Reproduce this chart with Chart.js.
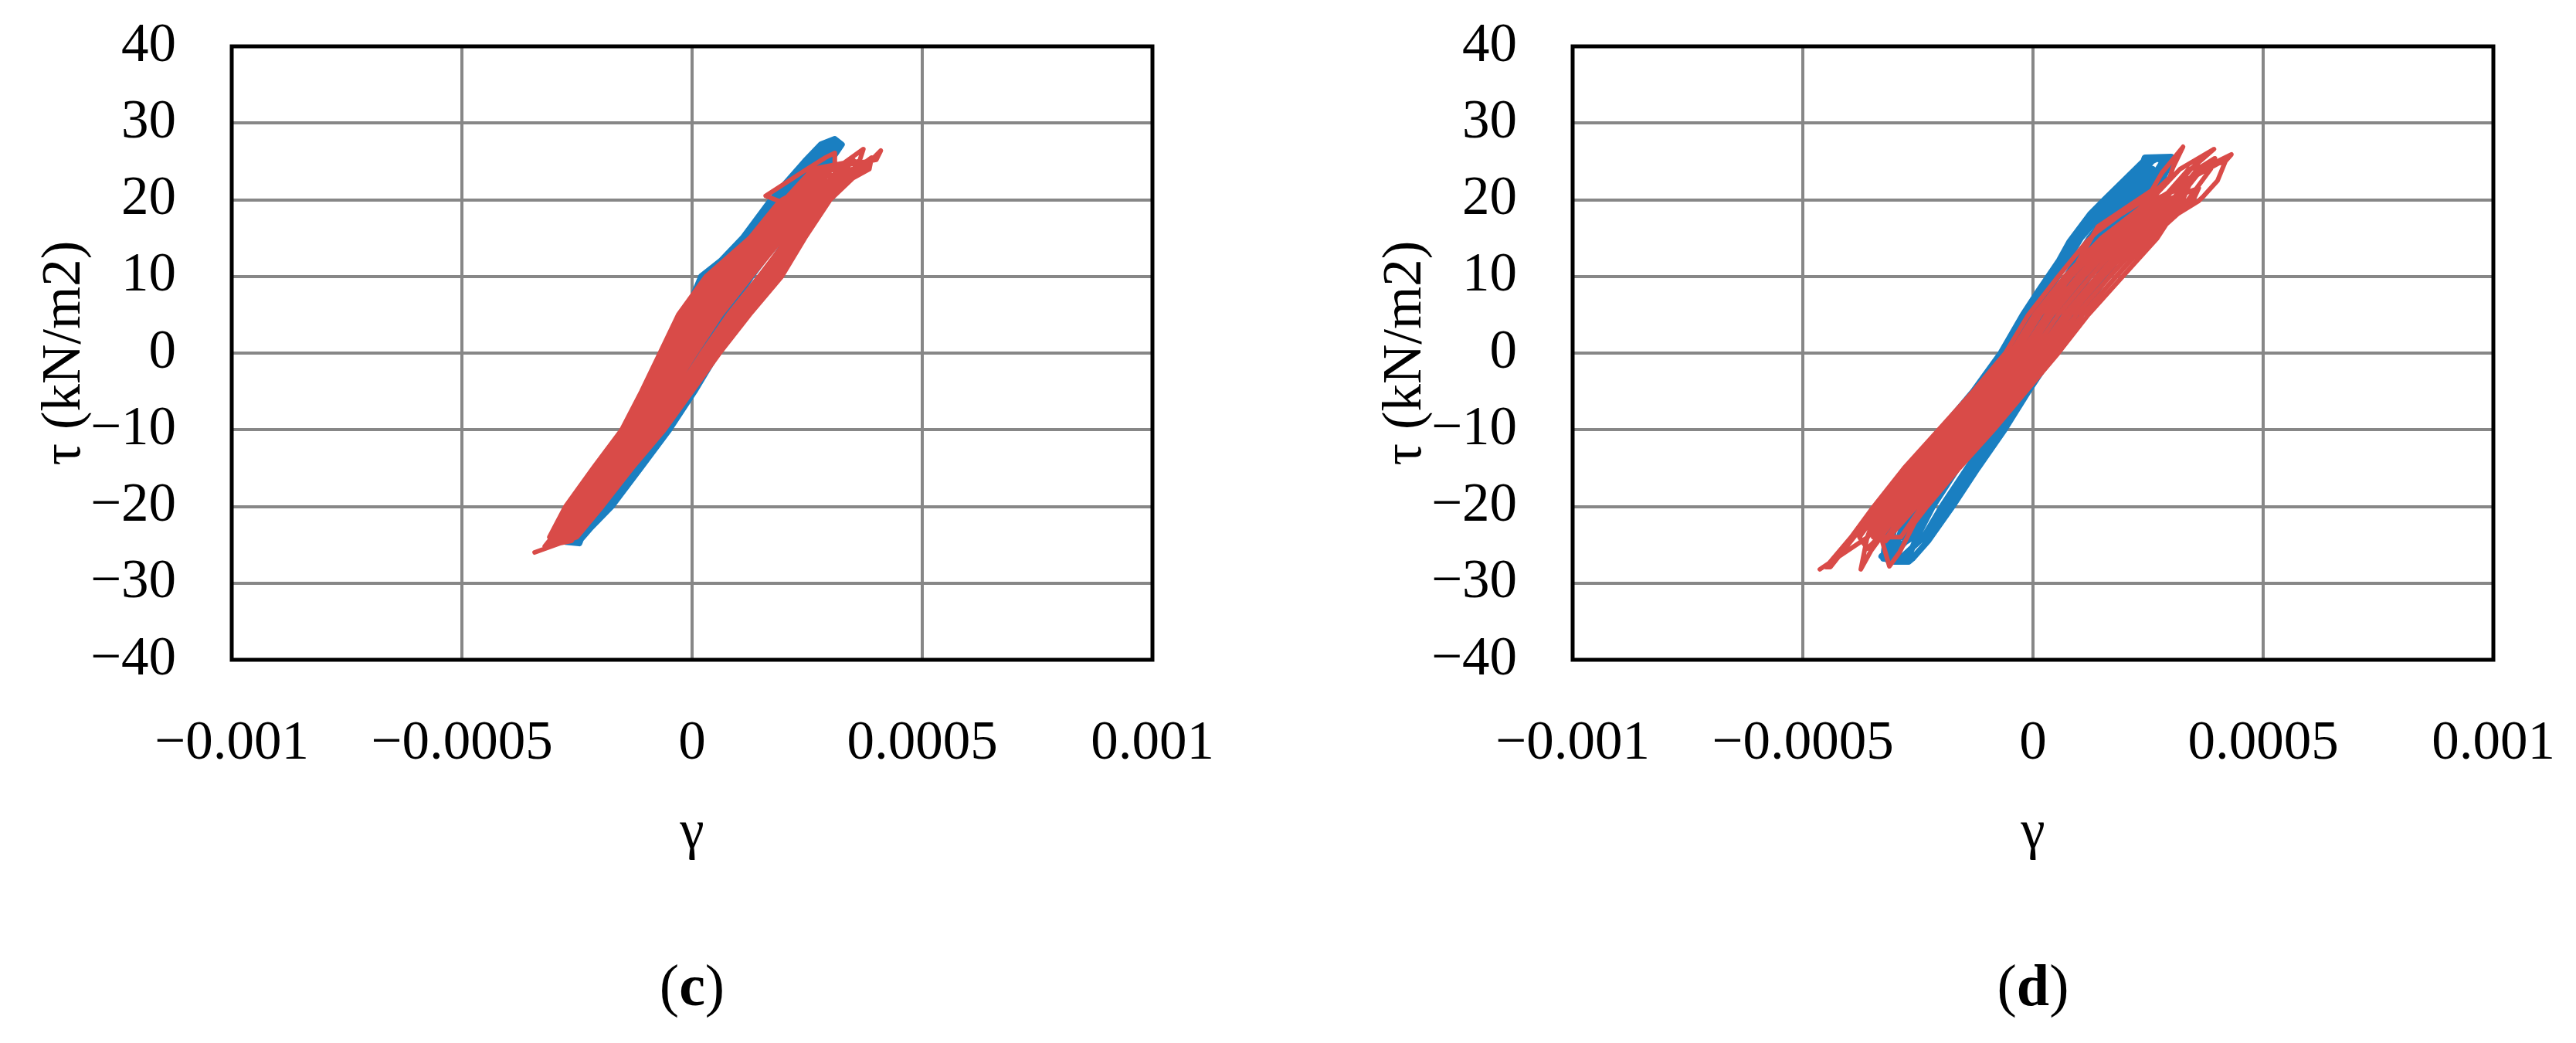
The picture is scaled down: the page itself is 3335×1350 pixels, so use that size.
<!DOCTYPE html>
<html><head><meta charset="utf-8">
<script src="https://cdn.jsdelivr.net/npm/chart.js@4.4.0/dist/chart.umd.min.js"></script>
<style>
html,body{margin:0;padding:0;background:#fff;width:3335px;height:1350px;overflow:hidden;}
.box{position:absolute;top:0;height:1150px;}
.cap{position:absolute;top:1230px;font-family:'Liberation Serif';font-size:76px;color:#000;transform:translateX(-50%);line-height:90px;white-space:nowrap;}
</style></head><body>
<div class="box" style="left:0;width:1660px"><canvas id="cc" width="1660" height="1150"></canvas></div>
<div class="box" style="left:1736px;width:1599px"><canvas id="cd" width="1599" height="1150"></canvas></div>
<div class="cap" style="left:896px">(<b>c</b>)</div>
<div class="cap" style="left:2632px">(<b>d</b>)</div>
<script>
// ---- axes / labels ----
const xTickValues = [-0.001, -0.0005, 0, 0.0005, 0.001];
const xTickLabels = ['\u22120.001', '\u22120.0005', '0', '0.0005', '0.001'];
const yTickValues = [-40, -30, -20, -10, 0, 10, 20, 30, 40];
const yTickLabels = ['\u221240', '\u221230', '\u221220', '\u221210', '0', '10', '20', '30', '40'];
const xTitle = '\u03b3';
const yTitle = '\u03c4 (kN/m2)';

// ---- series: [gamma, tau] ----
const redC = [
[-3.42e-4,-26.0],[-2.5e-4,-24],[-1.95e-4,-20],[-1.3e-4,-15],[-0.6e-4,-10],[0,-5],[0.6e-4,0],[1.25e-4,5],[1.95e-4,10],[2.45e-4,15],[3.0e-4,20],[3.7e-4,24],[4.1e-4,26.4],[4.0e-4,25.2],[2.86e-4,24],[2.23e-4,20],[1.61e-4,15],[0.795e-4,10],[0.165e-4,5],[-0.31e-4,0],[-0.77e-4,-5],[-1.251e-4,-10],[-1.895e-4,-15],[-2.51e-4,-20],[-2.92e-4,-24],[-3.1e-4,-24.8],
[-2.56e-4,-24],[-2.03e-4,-20],[-1.385e-4,-15],[-0.693e-4,-10],[-0.11e-4,-5],[0.47e-4,0],[1.095e-4,5],[1.785e-4,10],[2.33e-4,15],[2.89e-4,20],[3.58e-4,24],[3.72e-4,26.6],[3.3e-4,24.8],[2.62e-4,24],[2.01e-4,20],[1.37e-4,15],[0.465e-4,10],[-0.145e-4,5],[-0.57e-4,0],[-0.99e-4,-5],[-1.437e-4,-10],[-2.065e-4,-15],[-2.67e-4,-20],[-3.04e-4,-24],[-3.2e-4,-25.2],
[-2.62e-4,-24.5],[-2.11e-4,-20],[-1.47e-4,-15],[-0.786e-4,-10],[-0.22e-4,-5],[0.34e-4,0],[0.94e-4,5],[1.62e-4,10],[2.21e-4,15],[2.78e-4,20],[3.1e-4,22.5],[3.1e-4,26.1],[2.9e-4,25.5],[2.5e-4,24],[1.6e-4,20.5],[1.9e-4,19.8],[1.25e-4,15],[0.3e-4,10],[-0.3e-4,5],[-0.7e-4,0],[-1.1e-4,-5],[-1.53e-4,-10],[-2.15e-4,-15],[-2.75e-4,-20],[-3.1e-4,-24],[-2.95e-4,-24.6],
[-2.68e-4,-24],[-2.19e-4,-20],[-1.555e-4,-15],[-0.879e-4,-10],[-0.33e-4,-5],[0.21e-4,0],[0.785e-4,5],[1.455e-4,10],[2.09e-4,15],[2.67e-4,20],[3.34e-4,24],[3.5e-4,25.2],[3.2e-4,24.6],[2.74e-4,24],[2.12e-4,20],[1.49e-4,15],[0.63e-4,10],[0.01e-4,5],[-0.44e-4,0],[-0.88e-4,-5],[-1.344e-4,-10],[-1.98e-4,-15],[-2.59e-4,-20],[-2.98e-4,-24],[-2.9e-4,-24.5],
[-2.74e-4,-24],[-2.27e-4,-20],[-1.64e-4,-15],[-0.972e-4,-10],[-0.44e-4,-5],[0.08e-4,0],[0.63e-4,5],[1.29e-4,10],[1.97e-4,15],[2.56e-4,20],[3.22e-4,24],[3.35e-4,24.6],[2.98e-4,24],[2.34e-4,20],[1.73e-4,15],[0.96e-4,10],[0.32e-4,5],[-0.18e-4,0],[-0.66e-4,-5],[-1.158e-4,-10],[-1.81e-4,-15],[-2.43e-4,-20],[-2.86e-4,-24],
[-2.53e-4,-24],[-1.99e-4,-20],[-1.34e-4,-15],[-0.65e-4,-10],[-0.055e-4,-5],[0.535e-4,0],[1.17e-4,5],[1.87e-4,10],[2.39e-4,15],[2.945e-4,20],[3.4e-4,22.5],[3.85e-4,24.0],[3.9e-4,25.5],[3.6e-4,24.2],[2.9e-4,23.0],[1.955e-4,20],[1.31e-4,15],[0.38e-4,10],[-0.22e-4,5],[-0.635e-4,0],[-1.045e-4,-5],[-1.48e-4,-10],[-2.11e-4,-15],[-2.71e-4,-20],[-3.07e-4,-24],
[-2.8e-4,-24],[-2.35e-4,-20],[-1.725e-4,-15],[-1.065e-4,-10],[-0.55e-4,-5],[-0.05e-4,0],[0.475e-4,5],[1.125e-4,10],[1.85e-4,15],[2.45e-4,20],[3.05e-4,24.2],[2.92e-4,24],[2.285e-4,20],[1.67e-4,15],[0.88e-4,10],[0.24e-4,5],[-0.245e-4,0],[-0.715e-4,-5],[-1.2e-4,-10],[-1.85e-4,-15],[-2.47e-4,-20],[-2.89e-4,-24],
[-2.65e-4,-24],[-2.15e-4,-20],[-1.51e-4,-15],[-0.83e-4,-10],[-0.275e-4,-5],[0.275e-4,0],[0.86e-4,5],[1.54e-4,10],[2.15e-4,15],[2.725e-4,20],[3.4e-4,24],[3.3e-4,24.5],[2.8e-4,24],[2.175e-4,20],[1.55e-4,15],[0.71e-4,10],[0.09e-4,5],[-0.375e-4,0],[-0.825e-4,-5],[-1.3e-4,-10],[-1.94e-4,-15],[-2.55e-4,-20],[-2.95e-4,-24],
[-2.77e-4,-24],[-2.31e-4,-20],[-1.68e-4,-15],[-1.02e-4,-10],[-0.495e-4,-5],[0.015e-4,0],[0.55e-4,5],[1.21e-4,10],[1.91e-4,15],[2.505e-4,20],[2.9e-4,22.6],[2.6e-4,22.3],[2.065e-4,20],[1.43e-4,15],[0.55e-4,10],[-0.07e-4,5],[-0.505e-4,0],[-0.935e-4,-5],[-1.39e-4,-10],[-2.02e-4,-15],[-2.63e-4,-20],[-3.01e-4,-24],
[-2.59e-4,-24],[-2.07e-4,-20],[-1.43e-4,-15],[-0.74e-4,-10],[-0.165e-4,-5],[0.405e-4,0],[1.02e-4,5],[1.70e-4,10],[2.27e-4,15],[2.835e-4,20],[3.52e-4,24],[3.6e-4,25],[3.04e-4,24],[2.395e-4,20],[1.79e-4,15],[1.04e-4,10],[0.4e-4,5],[-0.115e-4,0],[-0.605e-4,-5],[-1.11e-4,-10],[-1.77e-4,-15],[-2.39e-4,-20],[-2.83e-4,-24]
];

const blueC = [
[-2.75e-4,-24.6],[-2.45e-4,-24.8],[-2.4e-4,-24],[-1.75e-4,-20],[-1.12e-4,-15],[-0.5e-4,-10],[0.05e-4,-5],[0.55e-4,0],[1.15e-4,5],[1.75e-4,10],[2.25e-4,15],[2.65e-4,20],[3.0e-4,25],[3.25e-4,27.2],[3.1e-4,27.9],[2.8e-4,27.2],[2.45e-4,25],[1.72e-4,20],[1.1e-4,15],[0.62e-4,12],[0.2e-4,10],[-0.15e-4,5],[-0.6e-4,0],[-1.0e-4,-5],[-1.45e-4,-10],[-1.9e-4,-15],[-2.4e-4,-20],[-2.7e-4,-24],
[-2.445e-4,-24],[-1.85e-4,-20],[-1.24e-4,-15],[-0.64e-4,-10],[-0.11e-4,-5],[0.38e-4,0],[0.955e-4,5],[1.52e-4,10],[2.08e-4,15],[2.51e-4,20],[2.92e-4,25],[3.18e-4,27.5],[3.0e-4,27.6],[2.87e-4,27],[2.53e-4,25],[1.86e-4,20],[1.27e-4,15],[0.43e-4,10],[0.045e-4,5],[-0.43e-4,0],[-0.84e-4,-5],[-1.31e-4,-10],[-1.78e-4,-15],[-2.30e-4,-20],[-2.655e-4,-24],
[-2.49e-4,-24],[-1.945e-4,-20],[-1.354e-4,-15],[-0.785e-4,-10],[-0.265e-4,-5],[0.205e-4,0],[0.76e-4,5],[1.285e-4,10],[1.905e-4,15],[2.37e-4,20],[2.835e-4,25],[3.1e-4,27],[2.935e-4,27],[2.615e-4,25],[2.0e-4,20],[1.445e-4,15],[0.665e-4,10],[0.24e-4,5],[-0.255e-4,0],[-0.685e-4,-5],[-1.165e-4,-10],[-1.666e-4,-15],[-2.205e-4,-20],[-2.61e-4,-24],
[-2.535e-4,-24],[-2.04e-4,-20],[-1.47e-4,-15],[-0.93e-4,-10],[-0.42e-4,-5],[0.03e-4,0],[0.565e-4,5],[1.05e-4,10],[1.73e-4,15],[2.23e-4,20],[2.75e-4,25],[3.0e-4,26.5],[2.85e-4,26.3],[2.70e-4,25],[2.14e-4,20],[1.62e-4,15],[0.9e-4,10],[0.435e-4,5],[-0.08e-4,0],[-0.53e-4,-5],[-1.02e-4,-10],[-1.55e-4,-15],[-2.11e-4,-20],[-2.565e-4,-24.2],
[-2.42e-4,-24.3],[-1.8e-4,-20],[-1.18e-4,-15],[-0.57e-4,-10],[-0.03e-4,-5],[0.47e-4,0],[1.05e-4,5],[1.64e-4,10],[2.17e-4,15],[2.58e-4,20],[2.96e-4,25],[3.15e-4,26.8],[2.9e-4,27.3],[2.49e-4,25],[1.79e-4,20],[1.19e-4,15],[0.32e-4,10],[-0.05e-4,5],[-0.51e-4,0],[-0.92e-4,-5],[-1.38e-4,-10],[-1.84e-4,-15],[-2.35e-4,-20],[-2.68e-4,-24.4],
[-2.51e-4,-24],[-1.99e-4,-20],[-1.42e-4,-15],[-0.86e-4,-10],[-0.35e-4,-5],[0.11e-4,0],[0.66e-4,5],[1.16e-4,10],[1.81e-4,15],[2.3e-4,20],[2.79e-4,25],[2.66e-4,25],[2.07e-4,20],[1.54e-4,15],[0.79e-4,10],[0.34e-4,5],[-0.16e-4,0],[-0.6e-4,-5],[-1.09e-4,-10],[-1.6e-4,-15],[-2.15e-4,-20],[-2.59e-4,-24]
];

const redD = [
[-4.63e-4,-28.2],[-3.59e-4,-24],[-3.112e-4,-20],[-2.44e-4,-15],[-1.69e-4,-10],[-0.955e-4,-5],[-0.255e-4,0],[0.29e-4,5],[0.8e-4,10],[1.41e-4,16.5],[2.58e-4,21.2],[2.8e-4,23.5],[3.26e-4,26.9],[3.04e-4,24.2],[2.97e-4,22.9],[2.67e-4,21.2],[2.37e-4,19.8],[1.91e-4,18.1],[1.39e-4,15.8],[1.16e-4,14.5],[0.55e-4,10],[-0.1e-4,5],[-0.6e-4,0],[-1.3e-4,-5],[-2.05e-4,-10],[-2.8e-4,-15],[-3.46e-4,-20],[-3.95e-4,-24],[-4.5e-4,-27.9],
[-4.4e-4,-27.9],[-3.69e-4,-22.5],[-3.36e-4,-20.1],[-3.07e-4,-18.4],[-2.56e-4,-15],[-1.63e-4,-10],[-0.8975e-4,-5],[-0.1975e-4,0],[0.355e-4,5],[1.04e-4,10],[1.8225e-4,15],[2.8525e-4,20],[3.4325e-4,24],[3.93e-4,26.6],[3.195e-4,24],[2.565e-4,20],[1.485e-4,15],[0.69e-4,10],[0.03e-4,5],[-0.485e-4,0],[-1.185e-4,-5],[-1.93e-4,-10],[-2.68e-4,-15],[-3.344e-4,-20],[-3.6e-4,-24],[-3.74e-4,-28.2],
[-3.52e-4,-25.8],[-3.12e-4,-22.5],[-2.764e-4,-20],[-2.08e-4,-15],[-1.33e-4,-10],[-0.61e-4,-5],[0.09e-4,0],[0.68e-4,5],[1.39e-4,10],[2.16e-4,15],[3.14e-4,20],[3.67e-4,24],[4.31e-4,25.9],[4.16e-4,24.9],[3.385e-4,24],[2.795e-4,20],[1.755e-4,15],[0.97e-4,10],[0.29e-4,5],[-0.255e-4,0],[-0.955e-4,-5],[-1.69e-4,-10],[-2.44e-4,-15],[-3.112e-4,-20],[-3.3e-4,-24],[-3.12e-4,-27.8],
[-2.9e-4,-26],[-2.57e-4,-22.1],[-2.3e-4,-20],[-1.6e-4,-15],[-0.85e-4,-10],[-0.15e-4,-5],[0.55e-4,0],[1.2e-4,5],[1.95e-4,10],[2.7e-4,15],[2.97e-4,17.5],[3.59e-4,19.8],[3.71e-4,20.5],[4.01e-4,22.5],[4.2e-4,25.3],[3.5e-4,23.0],[2.68e-4,20],[1.62e-4,15],[0.83e-4,10],[0.16e-4,5],[-0.37e-4,0],[-1.07e-4,-5],[-1.81e-4,-10],[-2.56e-4,-15],[-3.228e-4,-20],[-3.5e-4,-23],
[-3.2e-4,-24.5],[-2.532e-4,-20],[-1.84e-4,-15],[-1.09e-4,-10],[-0.38e-4,-5],[0.32e-4,0],[0.94e-4,5],[1.67e-4,10],[2.43e-4,15],[3.37e-4,20],[3.86e-4,24],[3.95e-4,25.4],[3.575e-4,24],[3.025e-4,20],[2.025e-4,15],[1.25e-4,10],[0.55e-4,5],[-0.025e-4,0],[-0.725e-4,-5],[-1.45e-4,-10],[-2.2e-4,-15],[-2.88e-4,-20],[-3.35e-4,-24],
[-2.87e-4,-24],[-2.416e-4,-20],[-1.72e-4,-15],[-0.97e-4,-10],[-0.265e-4,-5],[0.435e-4,0],[1.07e-4,5],[1.81e-4,10],[2.565e-4,15],[3.485e-4,20],[3.6e-4,21.5],[2.91e-4,20],[1.89e-4,15],[1.11e-4,10],[0.42e-4,5],[-0.14e-4,0],[-0.84e-4,-5],[-1.57e-4,-10],[-2.32e-4,-15],[-2.996e-4,-20],[-3.47e-4,-24],
[-3.11e-4,-24],[-2.648e-4,-20],[-1.96e-4,-15],[-1.21e-4,-10],[-0.495e-4,-5],[0.205e-4,0],[0.81e-4,5],[1.53e-4,10],[2.295e-4,15],[3.255e-4,20],[3.4e-4,22],[2.6225e-4,20],[1.5525e-4,15],[0.76e-4,10],[0.095e-4,5],[-0.4275e-4,0],[-1.1275e-4,-5],[-1.87e-4,-10],[-2.62e-4,-15],[-3.286e-4,-20],[-3.77e-4,-24],[-3.6e-4,-25.5],
[-3.35e-4,-24],[-2.88e-4,-20],[-2.2e-4,-15],[-1.45e-4,-10],[-0.725e-4,-5],[-0.025e-4,0],[0.55e-4,5],[1.25e-4,10],[2.025e-4,15],[3.025e-4,20],[3.4e-4,22.5],[3.3e-4,23.2],[3.1975e-4,20],[2.2275e-4,15],[1.46e-4,10],[0.745e-4,5],[0.1475e-4,0],[-0.5525e-4,-5],[-1.27e-4,-10],[-2.02e-4,-15],[-2.706e-4,-20],[-3.17e-4,-24]
];

const blueD = [
[-3.29e-4,-26.5],[-3.1e-4,-27.2],[-2.7e-4,-27.2],[-2.62e-4,-26.8],[-2.28e-4,-24.5],[-1.75e-4,-20],[-1.2e-4,-15],[-0.62e-4,-10],[-0.1e-4,-5],[0.45e-4,0],[1.05e-4,5],[1.6e-4,10],[2.1e-4,15],[2.6e-4,20],[3.0e-4,25],[3.0e-4,25.6],[2.43e-4,25.5],[2.4e-4,25],[1.55e-4,20],[1.24e-4,18.1],[0.79e-4,14.5],[0.57e-4,12.1],[0.12e-4,8.1],[-0.22e-4,5],[-0.7e-4,0],[-1.3e-4,-5],[-2.0e-4,-10],[-2.6e-4,-15],[-3.1e-4,-20],[-3.2e-4,-24],[-3.25e-4,-26.8],
[-2.9e-4,-26.9],[-2.375e-4,-24],[-1.978e-4,-20],[-1.427e-4,-15],[-0.870e-4,-10],[-0.28e-4,-5],[0.278e-4,0],[0.863e-4,5],[1.413e-4,10],[1.913e-4,15],[2.45e-4,20],[2.91e-4,25],[2.75e-4,25.5],[2.49e-4,25],[1.75e-4,20],[1.0375e-4,15],[0.5375e-4,10],[-0.0125e-4,5],[-0.528e-4,0],[-1.12e-4,-5],[-1.80e-4,-10],[-2.393e-4,-15],[-2.902e-4,-20],[-3.054e-4,-24],[-3.1e-4,-26.5],
[-2.7e-4,-26.5],[-2.52e-4,-24],[-2.176e-4,-20],[-1.634e-4,-15],[-1.069e-4,-10],[-0.46e-4,-5],[0.105e-4,0],[0.675e-4,5],[1.225e-4,10],[1.725e-4,15],[2.3e-4,20],[2.82e-4,25],[2.7e-4,25.4],[2.58e-4,25],[1.9e-4,20],[1.225e-4,15],[0.725e-4,10],[0.175e-4,5],[-0.355e-4,0],[-0.94e-4,-5],[-1.601e-4,-10],[-2.186e-4,-15],[-2.704e-4,-20],[-2.909e-4,-24],[-3.0e-4,-26],
[-2.667e-4,-24],[-2.374e-4,-20],[-1.841e-4,-15],[-1.269e-4,-10],[-0.64e-4,-5],[-0.068e-4,0],[0.488e-4,5],[1.038e-4,10],[1.538e-4,15],[2.15e-4,20],[2.6e-4,24],[2.5e-4,24],[2.05e-4,20],[1.413e-4,15],[0.913e-4,10],[0.363e-4,5],[-0.183e-4,0],[-0.76e-4,-5],[-1.40e-4,-10],[-1.979e-4,-15],[-2.506e-4,-20],[-2.764e-4,-24],
[-2.31e-4,-24],[-1.886e-4,-20],[-1.33e-4,-15],[-0.776e-4,-10],[-0.196e-4,-5],[0.358e-4,0],[0.95e-4,5],[1.5e-4,10],[2.0e-4,15],[2.52e-4,20],[2.952e-4,25],[2.6e-4,25.5],[2.448e-4,25],[1.68e-4,20],[0.95e-4,15],[0.45e-4,10],[-0.1e-4,5],[-0.608e-4,0],[-1.204e-4,-5],[-1.894e-4,-10],[-2.49e-4,-15],[-2.994e-4,-20],[-3.12e-4,-24],[-3.2e-4,-26.2],
[-2.60e-4,-24],[-2.28e-4,-20],[-1.744e-4,-15],[-1.175e-4,-10],[-0.556e-4,-5],[0.013e-4,0],[0.575e-4,5],[1.125e-4,10],[1.625e-4,15],[2.22e-4,20],[2.6e-4,23],[2.45e-4,23],[1.98e-4,20],[1.325e-4,15],[0.825e-4,10],[0.275e-4,5],[-0.263e-4,0],[-0.844e-4,-5],[-1.495e-4,-10],[-2.076e-4,-15],[-2.598e-4,-20],[-2.83e-4,-24]
];

// ---- styling ----
const RED = '#D94B48';
const BLUE = '#1A7FC1';
const GRID = '#878787';
const FONT = {family: "'Liberation Serif', 'Times New Roman', serif", size: 71};
const toPts = arr => arr.map(p => ({x: p[0], y: p[1]}));

const framePlugin = {
  id: 'frame',
  afterDatasetsDraw(chart) {
    const {ctx, chartArea: a} = chart;
    ctx.save();
    ctx.strokeStyle = '#000';
    ctx.lineWidth = 5;
    ctx.strokeRect(a.left, a.top, a.right - a.left, a.bottom - a.top);
    ctx.restore();
  }
};

function zeroPad(s) { s.paddingLeft = 0; s.paddingRight = 0; s.paddingTop = 0; s.paddingBottom = 0; }

function makeChart(id, red, blue, canvasWidth) {
  const plotLeft = 300, plotWidth = 1192, plotTop = 60, xAxisHeight = 296;
  return new Chart(document.getElementById(id), {
    type: 'scatter',
    data: {
      datasets: [
        {data: toPts(red), showLine: true, borderColor: RED, backgroundColor: RED, borderWidth: 6,
         pointRadius: 0, tension: 0, borderJoinStyle: 'round', borderCapStyle: 'round'},
        {data: toPts(blue), showLine: true, borderColor: BLUE, backgroundColor: BLUE, borderWidth: 8,
         pointRadius: 0, tension: 0, borderJoinStyle: 'round', borderCapStyle: 'round'}
      ]
    },
    options: {
      responsive: false,
      animation: false,
      devicePixelRatio: 1,
      layout: {padding: {left: 0, top: plotTop, right: canvasWidth - plotLeft - plotWidth, bottom: 0}},
      plugins: {legend: {display: false}, tooltip: {enabled: false}},
      scales: {
        x: {
          type: 'linear', min: -0.001, max: 0.001,
          afterBuildTicks: s => { s.ticks = xTickValues.map(v => ({value: v})); },
          afterFit: s => { s.height = xAxisHeight; zeroPad(s); },
          ticks: {callback: (v, i) => xTickLabels[i], font: FONT, color: '#000', padding: 67, maxRotation: 0, minRotation: 0, autoSkip: false},
          grid: {color: GRID, lineWidth: 4, drawTicks: false},
          border: {display: false},
          title: {display: true, text: xTitle, font: FONT, color: '#000', padding: {top: 0, bottom: 28}}
        },
        y: {
          type: 'linear', min: -40, max: 40,
          afterBuildTicks: s => { s.ticks = yTickValues.map(v => ({value: v})); },
          afterFit: s => { s.width = plotLeft; zeroPad(s); },
          ticks: {callback: (v, i) => yTickLabels[i], font: FONT, color: '#000', padding: 72, autoSkip: false},
          grid: {color: GRID, lineWidth: 4, drawTicks: false},
          border: {display: false},
          title: {display: true, text: yTitle, font: FONT, color: '#000', padding: {top: 42, bottom: 0}}
        }
      }
    },
    plugins: [framePlugin]
  });
}

makeChart('cc', redC, blueC, 1660);
makeChart('cd', redD, blueD, 1599);
</script>
</body></html>
